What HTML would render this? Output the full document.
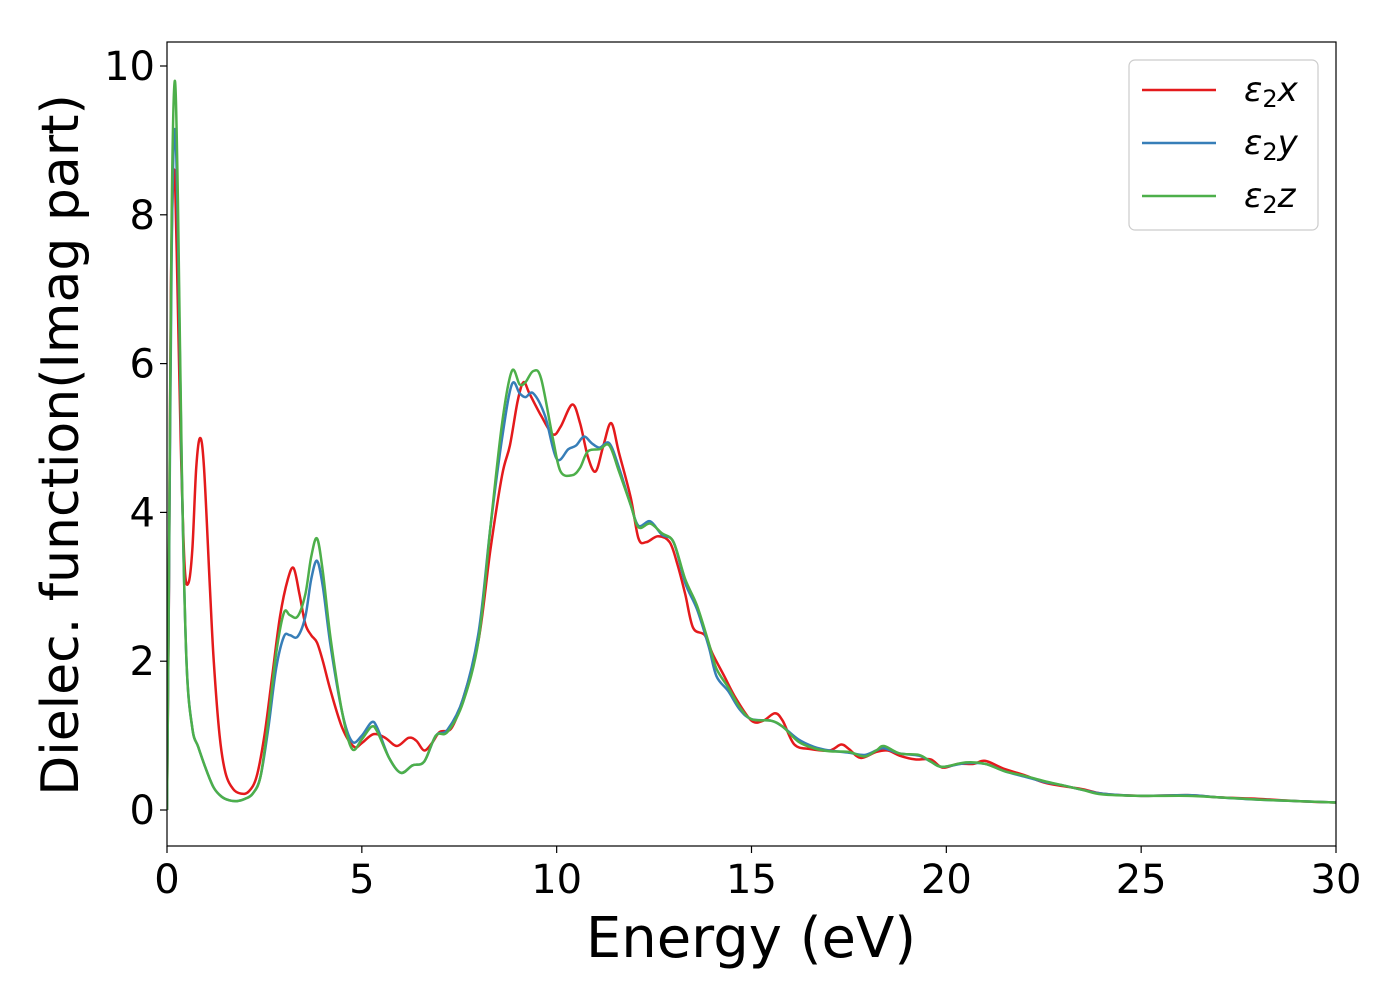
<!DOCTYPE html>
<html><head><meta charset="utf-8"><style>
body{margin:0;background:#fff}
svg{font-family:"DejaVu Sans","Liberation Sans",sans-serif}
</style></head><body>
<svg id="chart" width="1400" height="1000" viewBox="0 0 1400 1000">
<rect width="1400" height="1000" fill="#fff"/>
<g id="plot"></g>
<rect x="167" y="42" width="1169" height="804" fill="none" stroke="#000" stroke-width="1.2"/>
<g id="ticks"></g>
<text x="751" y="957" font-size="56" text-anchor="middle">Energy (eV)</text>
<text transform="translate(78,445) rotate(-90)" font-size="52" text-anchor="middle">Dielec. function(Imag part)</text>
<g>
<rect x="1129" y="60" width="189" height="170" rx="6" fill="#fff" stroke="#ccc" stroke-width="1.2"/>
<g><line x1="1142" y1="90" x2="1216" y2="90" stroke="#e41a1c" stroke-width="2.5"/><text x="1244" y="101" font-size="34" font-style="italic">ε<tspan font-size="24" dy="6" font-style="normal">2</tspan><tspan dy="-6">x</tspan></text></g>
<g><line x1="1142" y1="143" x2="1216" y2="143" stroke="#377eb8" stroke-width="2.5"/><text x="1244" y="154" font-size="34" font-style="italic">ε<tspan font-size="24" dy="6" font-style="normal">2</tspan><tspan dy="-6">y</tspan></text></g>
<g><line x1="1142" y1="196" x2="1216" y2="196" stroke="#4daf4a" stroke-width="2.5"/><text x="1244" y="207" font-size="34" font-style="italic">ε<tspan font-size="24" dy="6" font-style="normal">2</tspan><tspan dy="-6">z</tspan></text></g>
</g>
</svg>
<script>
const xTicks=[0,5,10,15,20,25,30];
const yTicks=[0,2,4,6,8,10];
const seriesX=[[0,0],[0.05,3],[0.1,7],[0.18,8.6],[0.25,7.5],[0.35,5],[0.45,3.3],[0.55,3.05],[0.65,3.5],[0.75,4.6],[0.85,5.0],[0.95,4.6],[1.1,3],[1.2,2],[1.35,1],[1.5,0.5],[1.7,0.28],[1.9,0.22],[2.1,0.25],[2.3,0.45],[2.5,1.0],[2.7,1.8],[2.9,2.6],[3.1,3.1],[3.25,3.25],[3.4,2.9],[3.55,2.5],[3.7,2.35],[3.85,2.25],[4.0,2.0],[4.2,1.6],[4.5,1.1],[4.8,0.85],[5.0,0.9],[5.3,1.02],[5.6,0.97],[5.9,0.86],[6.2,0.97],[6.4,0.93],[6.6,0.8],[6.8,0.9],[7.0,1.05],[7.3,1.1],[7.6,1.5],[8.0,2.3],[8.3,3.5],[8.6,4.5],[8.8,4.9],[9.0,5.5],[9.15,5.75],[9.3,5.6],[9.6,5.3],[9.9,5.05],[10.1,5.15],[10.4,5.45],[10.6,5.2],[10.8,4.75],[11.0,4.55],[11.2,4.9],[11.4,5.2],[11.6,4.8],[11.9,4.2],[12.1,3.65],[12.3,3.6],[12.6,3.68],[12.9,3.6],[13.1,3.3],[13.3,2.9],[13.5,2.45],[13.8,2.35],[14.0,2.1],[14.3,1.8],[14.6,1.5],[15.0,1.2],[15.3,1.2],[15.6,1.3],[15.8,1.2],[16.1,0.88],[16.5,0.82],[17.0,0.8],[17.3,0.88],[17.5,0.82],[17.8,0.7],[18.2,0.78],[18.5,0.8],[18.8,0.73],[19.2,0.68],[19.6,0.68],[19.9,0.57],[20.3,0.62],[20.7,0.62],[21.0,0.66],[21.5,0.55],[22,0.47],[22.5,0.37],[23,0.32],[23.5,0.28],[24,0.22],[25,0.19],[26.2,0.2],[27,0.17],[28,0.15],[29,0.12],[30,0.1]];
const seriesY=[[0,0],[0.05,3],[0.12,7.5],[0.2,9.15],[0.28,7.8],[0.38,4.5],[0.5,2],[0.65,1.1],[0.8,0.85],[1.0,0.55],[1.2,0.3],[1.4,0.18],[1.6,0.13],[1.8,0.12],[2.0,0.15],[2.2,0.22],[2.4,0.45],[2.6,1.1],[2.8,1.9],[3.0,2.33],[3.15,2.35],[3.35,2.33],[3.55,2.6],[3.7,3.1],[3.85,3.35],[4.0,3.0],[4.2,2.2],[4.5,1.3],[4.75,0.92],[5.0,1.0],[5.25,1.18],[5.4,1.1],[5.7,0.7],[6.0,0.5],[6.3,0.6],[6.6,0.65],[6.9,1.0],[7.2,1.08],[7.6,1.5],[8.0,2.4],[8.3,3.8],[8.6,5.0],[8.85,5.72],[9.05,5.6],[9.2,5.55],[9.4,5.6],[9.7,5.3],[10.0,4.72],[10.3,4.85],[10.5,4.9],[10.7,5.02],[10.9,4.93],[11.1,4.87],[11.35,4.93],[11.6,4.6],[11.9,4.1],[12.1,3.82],[12.4,3.88],[12.7,3.7],[13.0,3.6],[13.3,3.05],[13.6,2.7],[13.9,2.2],[14.1,1.8],[14.4,1.6],[14.7,1.35],[15.0,1.22],[15.5,1.2],[15.8,1.12],[16.2,0.95],[16.6,0.85],[17.0,0.8],[17.5,0.77],[17.9,0.74],[18.2,0.8],[18.4,0.83],[18.8,0.76],[19.3,0.73],[19.6,0.65],[19.9,0.58],[20.5,0.63],[21.0,0.62],[21.5,0.52],[22,0.45],[22.5,0.38],[23,0.33],[23.5,0.27],[24,0.22],[25,0.19],[26.2,0.2],[27,0.17],[28,0.14],[29,0.12],[30,0.1]];
const seriesZ=[[0,0],[0.05,3.2],[0.12,8],[0.2,9.8],[0.28,8.2],[0.38,4.6],[0.5,2],[0.65,1.1],[0.8,0.85],[1.0,0.55],[1.2,0.3],[1.4,0.18],[1.6,0.13],[1.8,0.12],[2.0,0.15],[2.2,0.22],[2.4,0.45],[2.6,1.2],[2.8,2.1],[3.0,2.65],[3.15,2.62],[3.35,2.6],[3.55,2.9],[3.7,3.4],[3.85,3.65],[4.0,3.2],[4.2,2.3],[4.5,1.3],[4.75,0.82],[5.0,0.95],[5.25,1.12],[5.4,1.05],[5.7,0.7],[6.0,0.5],[6.3,0.6],[6.6,0.65],[6.9,1.0],[7.2,1.05],[7.6,1.45],[8.0,2.3],[8.3,3.8],[8.6,5.2],[8.85,5.9],[9.05,5.72],[9.2,5.75],[9.4,5.9],[9.6,5.8],[9.9,5.0],[10.1,4.55],[10.4,4.5],[10.6,4.6],[10.8,4.82],[11.1,4.85],[11.35,4.9],[11.6,4.55],[11.9,4.1],[12.1,3.8],[12.4,3.85],[12.7,3.72],[13.0,3.6],[13.3,3.1],[13.6,2.75],[13.9,2.25],[14.1,1.9],[14.4,1.65],[14.7,1.38],[15.0,1.22],[15.5,1.2],[15.8,1.12],[16.2,0.92],[16.6,0.83],[17.0,0.79],[17.5,0.78],[17.9,0.72],[18.2,0.8],[18.4,0.86],[18.8,0.76],[19.3,0.74],[19.6,0.65],[19.9,0.58],[20.5,0.64],[21.0,0.62],[21.5,0.52],[22,0.46],[22.5,0.39],[23,0.33],[23.5,0.27],[24,0.21],[25,0.19],[26.2,0.19],[27,0.17],[28,0.14],[29,0.12],[30,0.1]];
const NS='http://www.w3.org/2000/svg';
const sx=v=>167+v*(1169/30);
const sy=v=>810-v*74.4;
function mk(t,a,p){const e=document.createElementNS(NS,t);for(const k in a)e.setAttribute(k,a[k]);p.appendChild(e);return e;}
const tg=document.getElementById('ticks');
xTicks.forEach(t=>{
 const l=mk('line',{x1:sx(t),x2:sx(t),y1:846,y2:853,stroke:'#000','stroke-width':1.2},tg);
 
 
 const tx=mk('text',{x:sx(t),y:893,'font-size':40,'text-anchor':'middle'},tg);tx.textContent=t;
 
 
});
yTicks.forEach(t=>{
 const l=mk('line',{x1:160,x2:167,y1:sy(t),y2:sy(t),stroke:'#000','stroke-width':1.2},tg);
 
 
 const tx=mk('text',{x:155,y:sy(t)+14,'font-size':40,'text-anchor':'end'},tg);tx.textContent=t;
 
 
});
function pathFor(d){
 const p=d.map(q=>[sx(q[0]),sy(q[1])]);
 let s='M'+p[0][0]+','+p[0][1];
 for(let i=0;i<p.length-1;i++){
  const p0=p[i-1]||p[i],p1=p[i],p2=p[i+1],p3=p[i+2]||p2;
  const c1=[p1[0]+(p2[0]-p0[0])/6,p1[1]+(p2[1]-p0[1])/6];
  const c2=[p2[0]-(p3[0]-p1[0])/6,p2[1]-(p3[1]-p1[1])/6];
  s+='C'+c1[0]+','+c1[1]+' '+c2[0]+','+c2[1]+' '+p2[0]+','+p2[1];
 }
 return s;
}
const pg=document.getElementById('plot');
mk('clipPath',{id:'clip'},pg).appendChild(document.createElementNS(NS,'rect'));
const cr=pg.querySelector('#clip rect');cr.setAttribute('x',167);cr.setAttribute('y',42);cr.setAttribute('width',1169);cr.setAttribute('height',804);
[[seriesX,'#e41a1c','series-eps2x'],[seriesY,'#377eb8','series-eps2y'],[seriesZ,'#4daf4a','series-eps2z']].forEach(s=>{
 const e=mk('path',{d:pathFor(s[0]),fill:'none',stroke:s[1],'stroke-width':2.5,'clip-path':'url(#clip)'},pg);
 
 
});
</script>
</body></html>
